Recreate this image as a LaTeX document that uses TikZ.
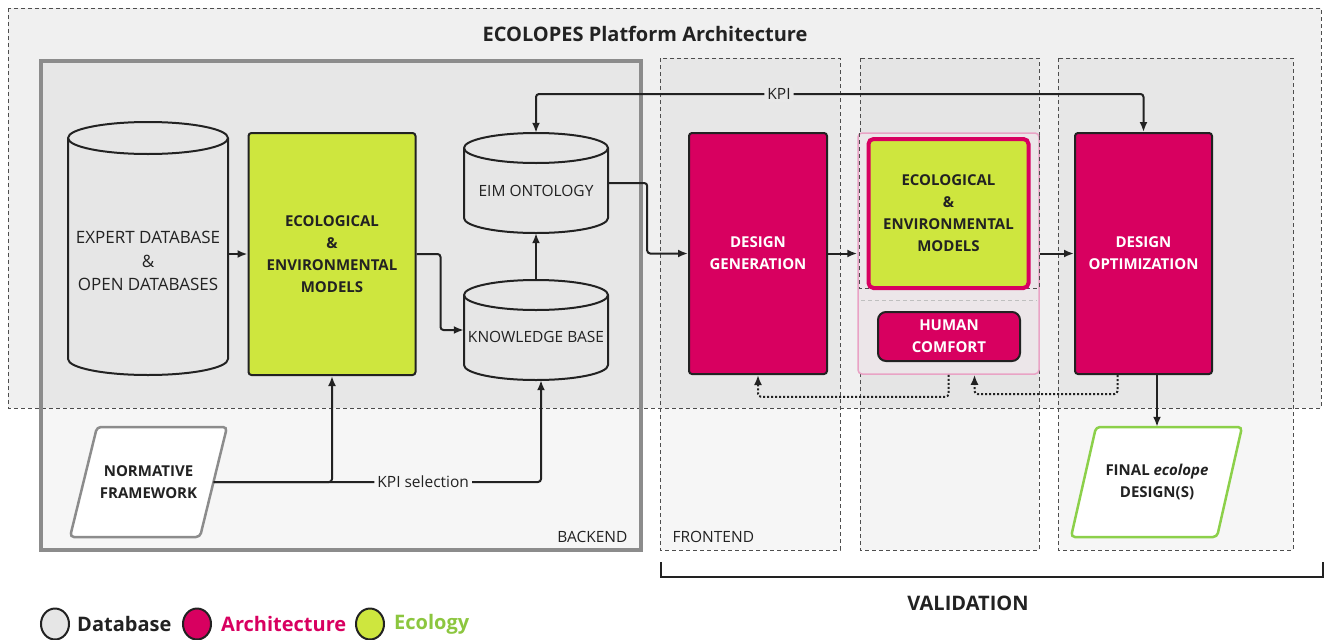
\documentclass[tikz,border=0pt]{standalone}
\usepackage{fontspec}
\setmainfont{Open Sans}
\usetikzlibrary{positioning,shapes.geometric,arrows.meta}
\definecolor{arch}{HTML}{D80060}
\definecolor{eco}{HTML}{CEE63E}
\definecolor{ecotxt}{HTML}{8CC63F}
\definecolor{finalline}{HTML}{8CD04A}
\definecolor{dbgray}{HTML}{E6E6E6}
\definecolor{ink}{HTML}{222222}
\definecolor{outerbg}{HTML}{F0F0F0}
\definecolor{kpibg}{HTML}{E8E8E8}
\definecolor{lowbg}{HTML}{F6F6F6}
\definecolor{grpbg}{HTML}{ECE6E9}
\definecolor{grpline}{HTML}{E9A3C5}
\begin{document}
\begin{tikzpicture}[x=1pt,y=-1pt,
  >={Latex[length=10,width=8]},
  txt/.style={font=\fontsize{15.5}{22}\selectfont, text=ink, align=center},
  boldtxt/.style={font=\fontsize{15}{22}\selectfont\bfseries, text=ink, align=center},
  archbox/.style={draw=ink, line width=2, rounded corners=3, fill=arch, text=white,
    font=\fontsize{15}{22}\selectfont\bfseries, align=center},
  ecobox/.style={draw=ink, line width=2, rounded corners=3, fill=eco, boldtxt},
  dbshape/.style={draw=ink, line width=2, fill=dbgray},
  fbox/.style={draw=ink!80, dash pattern=on 4 off 3, fill=black},
  para/.style={rounded corners=4, fill=white, line width=2.5},
  link/.style={->, line width=2, rounded corners=3, draw=ink},
  dotlink/.style={->, line width=2, dotted, rounded corners=3, draw=ink},
  legdot/.style={ellipse, draw=ink, line width=2, minimum width=28, minimum height=31, inner sep=0},
  legtxt/.style={font=\fontsize{20}{24}\selectfont\bfseries, inner sep=0}]
\useasboundingbox (0,0) rectangle (1326,640);

% platform, backend and frontend areas
\draw[draw=ink!80, dash pattern=on 4 off 3, fill=outerbg] (8,8) rectangle (1321,408);
\node[font=\fontsize{20}{24}\selectfont\bfseries, text=ink] (title) at (645,34) {ECOLOPES Platform Architecture};
\draw[draw=gray!90, line width=4, fill=black, fill opacity=0.035] (41,61) rectangle (641,550);
\node[txt, anchor=east] (backend) at (631,537) {BACKEND};
\foreach \xa/\xb/\op in {660/840/0.035, 860/1039/0.045, 1058/1293/0.035}{
\draw[fbox, fill opacity=\op] (\xa,58) rectangle (\xb,550);
}
\node[txt, anchor=west] (frontend) at (669,537) {FRONTEND};

% databases
\foreach \nm/\cx/\top/\bot/\hw/\r in {expert/148/122/375/80/16, eim/536/133/233/72/15, kb/536/280/380/72/15}{
\draw[dbshape] (\cx-\hw,\top+\r) -- (\cx-\hw,\bot-\r)
  arc[start angle=180, end angle=0, x radius=\hw, y radius=\r] -- (\cx+\hw,\top+\r)
  arc[start angle=0, end angle=-180, x radius=\hw, y radius=\r] -- cycle;
\draw[line width=2, draw=ink] (\cx-\hw,\top+\r) arc[start angle=180, end angle=0, x radius=\hw, y radius=\r];
\node[minimum width=2*\hw, minimum height=\bot-\top] (\nm) at (\cx,{(\top+\bot)/2}) {};
}
\node[txt, font=\fontsize{17}{23.5}\selectfont] (expertlbl) at (148,261) {EXPERT DATABASE\\\&\\OPEN DATABASES};
\node[txt] (eimlbl) at (536,191) {EIM ONTOLOGY};
\node[txt] (kblbl) at (536,337) {KNOWLEDGE BASE};

% models and design boxes
\node[ecobox, minimum width=167, minimum height=242] (eco1) at (332,254) {ECOLOGICAL\\\&\\ENVIRONMENTAL\\MODELS};
\node[archbox, minimum width=138, minimum height=241] (dgen) at (758,253.5) {DESIGN\\GENERATION};
\node[draw=grpline, line width=1.5, fill=grpbg, rounded corners=4, minimum width=181, minimum height=241] (mgrp) at (948.5,253.5) {};
\draw[draw=ink!80, dash pattern=on 4 off 3] (859,133) -- (859,288) -- (1039,288) -- (1039,133);
\draw[draw=gray!50, dash pattern=on 4 off 3] (861,300) -- (1037,300);
\node[ecobox, draw=arch, line width=4, rounded corners=5, minimum width=160, minimum height=149] (eco2) at (948.5,213.5) {ECOLOGICAL\\\&\\ENVIRONMENTAL\\MODELS};
\node[archbox, rounded corners=8, minimum width=142, minimum height=49] (human) at (949,336.5) {HUMAN\\COMFORT};
\node[archbox, minimum width=137, minimum height=241] (dopt) at (1143.5,253.5) {DESIGN\\OPTIMIZATION};

% inputs and outputs
\draw[para, draw=gray!90] (97,427) -- (227,427) -- (200,537) -- (70,537) -- cycle;
\node[boldtxt, minimum width=158, minimum height=110] (norm) at (148.5,482) {NORMATIVE\\FRAMEWORK};
\draw[para, draw=finalline] (1096,427) -- (1242,427) -- (1217,537) -- (1071,537) -- cycle;
\node[boldtxt, minimum width=172, minimum height=110] (final) at (1157,482) {FINAL \textit{ecolope}\\DESIGN(S)};

% connectors
\draw[link] (expert.east |- eco1.west) -- (eco1.west);
\draw[link] (eco1.east) -- ++(24,0) |- (kb.west);
\draw[link] (kb.north) -- (eim.south);
\draw[link] (eim.east) -- ++(39,0) |- (dgen.west);
\draw[link, <->] (eim.north) |- node[pos=0.7, fill=kpibg, txt, inner sep=3] {KPI} (dopt.north |- 0,94) -- (dopt.north);
\draw[link] (dgen.east) -- (mgrp.west);
\draw[link] (mgrp.east) -- (dopt.west);
\draw[link] (final.north |- dopt.south) -- (final.north);
\draw[dotlink] (mgrp.south) -- ++(0,22) -| (dgen.south);
\draw[dotlink] ([xshift=-26]dopt.south) -- ++(0,19) -| ([xshift=26]mgrp.south);
\draw[link] ([xshift=-14]norm.east) -| (eco1.south);
\draw[link] ([xshift=-14]norm.east) -| node[pos=0.32, fill=lowbg, txt, inner sep=3] {KPI selection} ([xshift=5]kb.south);

% validation bracket
\draw[line width=2.5, draw=ink] (661,562) -- (661,577) -- (1323,577) -- (1323,562);
\node[font=\fontsize{20}{24}\selectfont\bfseries, text=ink] (valid) at (968,603) {VALIDATION};

% legend
\node[legdot, fill=dbgray] (lgdb) at (55,624) {};
\node[legtxt, text=ink, right=7 of lgdb] (lgdbtxt) {Database};
\node[legdot, fill=arch] (lgarch) at (197,624) {};
\node[legtxt, text=arch, right=9 of lgarch] (lgarchtxt) {Architecture};
\node[legdot, fill=eco] (lgeco) at (370,624) {};
\node[legtxt, text=ecotxt, right=9 of lgeco] (lgecotxt) {Ecology};
\end{tikzpicture}
\end{document}
